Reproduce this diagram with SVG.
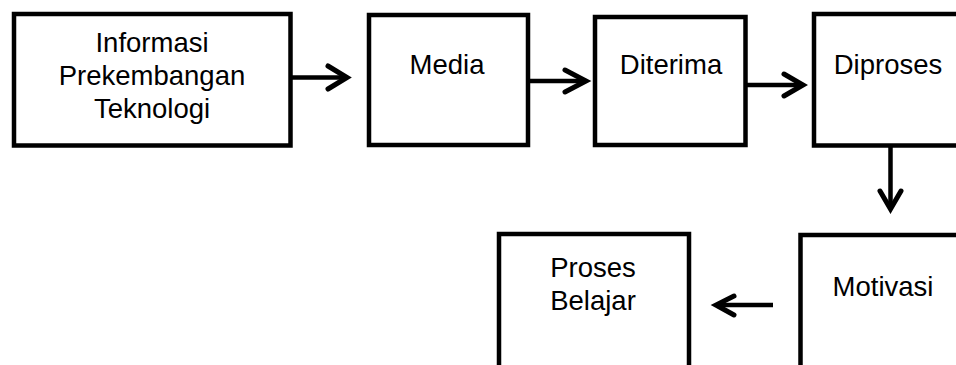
<svg xmlns="http://www.w3.org/2000/svg" width="956" height="365" viewBox="0 0 956 365">
<style>
.box{fill:#fff;stroke:#000;stroke-width:4.5;stroke-linejoin:miter}
.lbl{font-family:"Liberation Sans",Arial,sans-serif;font-size:27.5px;fill:#000;text-anchor:middle}
.ln{fill:none;stroke:#000;stroke-width:4.5}
.hd{fill:none;stroke:#000;stroke-width:5;stroke-linecap:round;stroke-linejoin:miter}
</style>
<rect width="956" height="365" fill="#fff"/>
<g id="node-informasi">
<rect class="box" x="14" y="14" width="276.5" height="131.5"/>
<text class="lbl" x="152" y="52">Informasi</text>
<text class="lbl" x="152" y="85">Prekembangan</text>
<text class="lbl" x="152" y="118">Teknologi</text>
</g>
<g id="node-media">
<rect class="box" x="369" y="15" width="159" height="130"/>
<text class="lbl" x="447" y="74">Media</text>
</g>
<g id="node-diterima">
<rect class="box" x="595" y="17" width="150.5" height="128"/>
<text class="lbl" x="671" y="74">Diterima</text>
</g>
<g id="node-diproses">
<rect class="box" x="814" y="14" width="160" height="131.5"/>
<text class="lbl" x="888" y="74">Diproses</text>
</g>
<g id="node-motivasi">
<rect class="box" x="800.5" y="235" width="170" height="150"/>
<text class="lbl" x="883" y="296">Motivasi</text>
</g>
<g id="node-proses-belajar">
<rect class="box" x="499" y="234" width="190" height="150"/>
<text class="lbl" x="593" y="277">Proses</text>
<text class="lbl" x="593" y="310">Belajar</text>
</g>
<g id="connectors">
<line class="ln" x1="292" y1="77.5" x2="345" y2="77.5"/>
<polyline class="hd" points="328,66 347,77.5 328,89"/>
<line class="ln" x1="530" y1="81" x2="584" y2="81"/>
<polyline class="hd" points="565,70 586,81 565,92"/>
<line class="ln" x1="747" y1="85" x2="800" y2="85"/>
<polyline class="hd" points="784,74 803,85 784,96"/>
<line class="ln" x1="890.5" y1="147" x2="890.5" y2="207"/>
<polyline class="hd" points="880,191 890.5,209 901,191"/>
<line class="ln" x1="773" y1="305" x2="718" y2="305"/>
<polyline class="hd" points="734,296 716,305 734,315"/>
</g>
</svg>
